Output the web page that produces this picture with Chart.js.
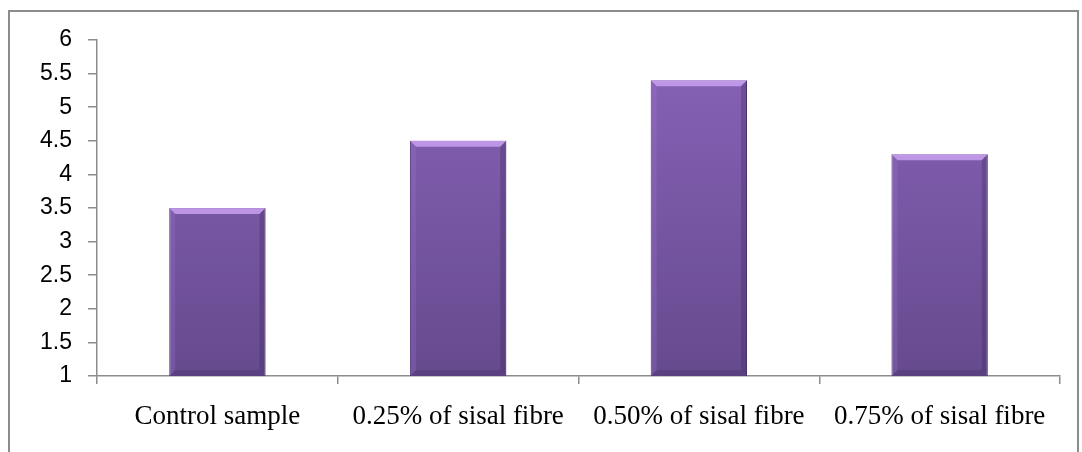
<title>Sisal fibre chart</title>
<style>
  body { margin: 0; background: #fff; }
  .frame {
    position: absolute; left: 8px; top: 10px;
    width: 1071px; height: 460px;
    border: 2px solid #8c8c8c; box-sizing: border-box;
  }
  .wrap { position: absolute; left: 0; top: 0; width: 1082px; height: 452px; }
</style>
</head>
<body>
<div class="frame"></div>
<div class="wrap"><canvas id="c"></canvas></div>
<script src="https://cdn.jsdelivr.net/npm/chart.js"></script>
<script>
  const categories = ['Control sample', '0.25% of sisal fibre', '0.50% of sisal fibre', '0.75% of sisal fibre'];
  const values = [3.5, 4.5, 5.4, 4.3];
  const yMin = 1, yMax = 6, yStep = 0.5;

  // degradado vertical para las barras
  function barFill(ctx) {
    const area = ctx.chart.chartArea;
    if (!area) return '#7a57a6';
    const g = ctx.chart.ctx.createLinearGradient(0, area.top, 0, area.bottom);
    g.addColorStop(0, '#8963b9');
    g.addColorStop(1, '#664a8e');
    return g;
  }

  // bisel claro arriba y bordes laterales
  const bevel = {
    id: 'bevel',
    afterDatasetsDraw(chart) {
      const c = chart.ctx;
      const bottom = chart.chartArea.bottom;
      chart.getDatasetMeta(0).data.forEach(bar => {
        const l = bar.x - bar.width / 2, r = bar.x + bar.width / 2;
        const t = bar.y, b = Math.min(bar.base, bottom), d = 6;
        c.save();
        c.fillStyle = 'rgba(205,165,245,0.8)';
        c.beginPath();
        c.moveTo(l, t); c.lineTo(r, t); c.lineTo(r - d, t + d); c.lineTo(l + d, t + d);
        c.closePath(); c.fill();
        c.fillStyle = 'rgba(60,35,90,0.3)';
        c.beginPath();
        c.moveTo(r, t); c.lineTo(r, b); c.lineTo(r - d, b - d); c.lineTo(r - d, t + d);
        c.closePath(); c.fill();
        c.fillStyle = 'rgba(160,120,210,0.25)';
        c.beginPath();
        c.moveTo(l, t); c.lineTo(l + d, t + d); c.lineTo(l + d, b - d); c.lineTo(l, b);
        c.closePath(); c.fill();
        c.fillStyle = 'rgba(60,35,90,0.25)';
        c.beginPath();
        c.moveTo(l, b); c.lineTo(l + d, b - d); c.lineTo(r - d, b - d); c.lineTo(r, b);
        c.closePath(); c.fill();
        c.restore();
      });
    }
  };

  new Chart(document.getElementById('c'), {
    type: 'bar',
    data: {
      labels: categories,
      datasets: [{
        data: values,
        backgroundColor: barFill,
        borderColor: '#4f3870',
        borderWidth: 1,
        barPercentage: 0.4,
        categoryPercentage: 1
      }]
    },
    options: {
      responsive: true,
      maintainAspectRatio: false,
      animation: false,
      layout: { padding: { top: 40, right: 22, left: 0, bottom: 0 } },
      plugins: { legend: { display: false }, tooltip: { enabled: false } },
      scales: {
        x: {
          offset: true,
          grid: { offset: true, drawOnChartArea: false, tickLength: 8, color: '#8c8c8c', lineWidth: 1.5 },
          border: { color: '#8c8c8c', width: 1.5 },
          ticks: { color: '#000', padding: 17, maxRotation: 0,
                   font: { family: '"Liberation Serif", "Times New Roman", serif', size: 27 } },
          afterFit(s) { s.height = 76; }
        },
        y: {
          min: yMin, max: yMax,
          grid: { drawOnChartArea: false, tickLength: 9, color: '#8c8c8c', lineWidth: 1.5 },
          border: { color: '#8c8c8c', width: 1.5 },
          ticks: { stepSize: yStep, color: '#000', padding: 16,
                   callback: v => String(v),
                   font: { family: '"Liberation Sans", Arial, sans-serif', size: 23 } },
          afterFit(s) { s.width = 97; }
        }
      }
    },
    plugins: [bevel]
  });
</script>
</body>
